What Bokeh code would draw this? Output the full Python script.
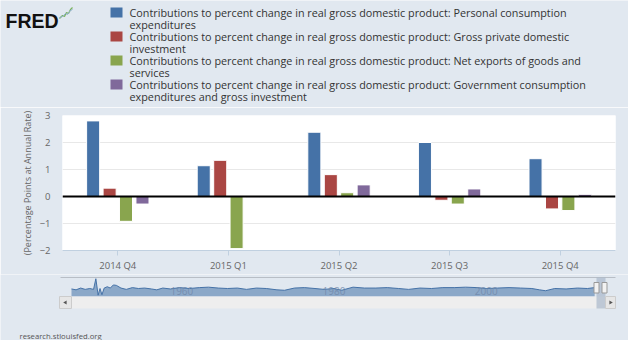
from bokeh.plotting import figure
from bokeh.models import ColumnDataSource, Range1d, FactorRange, Span, FixedTicker
from bokeh.transform import dodge
from bokeh.layouts import column
from bokeh.core.properties import value
from bokeh.embed import file_html
from bokeh.resources import INLINE

# ---------------- data ----------------
quarters = ["2014 Q4", "2015 Q1", "2015 Q2", "2015 Q3", "2015 Q4"]
pce = [2.80, 1.14, 2.38, 2.00, 1.40]
gpdi = [0.31, 1.34, 0.81, -0.14, -0.46]
netx = [-0.92, -1.93, 0.14, -0.28, -0.52]
gov = [-0.28, -0.04, 0.43, 0.28, 0.08]
yticks = [-2, -1, 0, 1, 2, 3]

series_keys = ["pce", "gpdi", "netx", "gov"]
series_colors = ["#4572A7", "#AA4643", "#89A54E", "#80699B"]
legend_line1 = [
    "Contributions to percent change in real gross domestic product: Personal consumption",
    "Contributions to percent change in real gross domestic product: Gross private domestic",
    "Contributions to percent change in real gross domestic product: Net exports of goods and",
    "Contributions to percent change in real gross domestic product: Government consumption",
]
legend_line2 = ["expenditures", "investment", "services", "expenditures and gross investment"]
y_title = "(Percentage Points at Annual Rate)"

# navigator (long-run overview) series
nav_years = [1947.0, 1947.6, 1948.2, 1948.8, 1949.4, 1949.9, 1950.2, 1950.5, 1950.75, 1951.0,
             1951.3, 1951.7, 1952.1, 1952.5, 1952.9, 1953.5, 1954.2, 1955.0, 1955.8, 1956.6,
             1957.5, 1958.2, 1959.0, 1960.0, 1961.2, 1962.5, 1963.8, 1965.0, 1966.3, 1967.5,
             1968.8, 1970.0, 1971.3, 1972.6, 1974.0, 1975.0, 1976.3, 1977.6, 1979.0, 1980.2,
             1981.5, 1982.5, 1984.0, 1985.5, 1987.0, 1988.5, 1990.0, 1991.3, 1992.8, 1994.3,
             1995.8, 1997.3, 1998.8, 2000.3, 2001.5, 2003.0, 2004.5, 2006.0, 2007.5, 2008.5,
             2009.3, 2010.5, 2012.0, 2013.5, 2014.8, 2015.75]
nav_values = [2, 0, 4, 1, 3, 1, 25, -12, 3, -11,
              4, 7, 4, 11, 10, 4, 1, 5, 3, 4,
              2, 0, 4, 2, 5, 3, 5, 6, 4, 3,
              4, 1, 4, 3, 0, -1, 4, 5, 3, 1,
              3, -1, 6, 4, 4, 5, 3, 1, 4, 3,
              5, 5, 6, 5, 3, 4, 5, 4, 3, 0,
              -2, 3, 2, 4, 3, 5]
nav_label_years = [1960, 1980, 2000]
nav_labels = ["1960", "1980", "2000"]

BG = "#e1e8f0"
FONT = value("Open Sans")
W = 628


def no_align(fig):
    if hasattr(fig, "frame_align"):
        fig.frame_align = False


# ---------------- header (logo + legend) ----------------
hdr = figure(width=W, height=107, x_range=Range1d(0, W), y_range=Range1d(107, 0),
             output_backend="svg", toolbar_location=None,
             x_axis_type=None, y_axis_type=None, min_border=0)
no_align(hdr)
hdr.background_fill_color = BG
hdr.border_fill_color = BG
hdr.outline_line_color = None
hdr.xgrid.visible = False
hdr.ygrid.visible = False

hdr.text(x=[5], y=[20], text=["FRED"], text_font=value("Liberation Sans"),
         text_font_style="bold", text_font_size="19.5px", text_color="#111111",
         text_baseline="alphabetic")
# small logo icon
hdr.line(x=[59, 62, 64, 66, 68, 70, 72], y=[18, 15, 16, 12, 13, 9, 7], line_color="#7bb35f", line_width=1.2)
hdr.line(x=[59, 62, 65, 67, 70, 72], y=[17, 16, 13, 14, 10, 9], line_color="#8fb0d0", line_width=1)

n = len(series_keys)
item_y = [12 + 24 * i for i in range(n)]
hdr.rect(x=[116] * n, y=item_y, width=12, height=10, fill_color=series_colors, line_color=None)
hdr.text(x=[129] * n, y=item_y, text=legend_line1, text_font=FONT, text_font_size="10.8px",
         text_color="#333333", text_baseline="middle")
hdr.text(x=[129] * n, y=[v + 11.7 for v in item_y], text=legend_line2, text_font=FONT,
         text_font_size="10.8px", text_color="#333333", text_baseline="middle")

# ---------------- main chart ----------------
src = ColumnDataSource(dict(q=quarters, pce=pce, gpdi=gpdi, netx=netx, gov=gov))
p = figure(width=W, height=167, x_range=FactorRange(*quarters, range_padding=0),
           y_range=Range1d(-2, 3), output_backend="svg", toolbar_location=None,
           min_border_left=60, min_border_right=13, min_border_top=8, min_border_bottom=23)
no_align(p)
p.background_fill_color = "white"
p.border_fill_color = BG
p.outline_line_color = None

offsets = [-0.223, -0.074, 0.074, 0.223]
for key, col, off in zip(series_keys, series_colors, offsets):
    p.vbar(x=dodge("q", off, range=p.x_range), top=key, bottom=0, width=0.118, source=src,
           fill_color=col, line_color="white", line_width=1)

p.add_layout(Span(location=0, dimension="width", line_color="black", line_width=2))

p.xgrid.visible = False
p.ygrid.grid_line_color = "#e8e8e8"
p.ygrid.grid_line_width = 1

xa = p.xaxis[0]
xa.axis_line_color = "#c0d0e0"
xa.major_tick_line_color = "#c0d0e0"
xa.major_tick_out = 5
xa.major_tick_in = 0
xa.minor_tick_line_color = None
xa.major_label_standoff = 3
xa.major_label_text_font = "Open Sans"
xa.major_label_text_font_size = "9.5px"
xa.major_label_text_color = "#666666"

ya = p.yaxis[0]
ya.ticker = FixedTicker(ticks=yticks)
ya.axis_line_color = None
ya.major_tick_line_color = None
ya.major_tick_out = 0
ya.major_tick_in = 0
ya.minor_tick_line_color = None
ya.major_label_standoff = 12
ya.major_label_text_font = "Open Sans"
ya.major_label_text_font_size = "9.5px"
ya.major_label_text_color = "#666666"
# blank first line pads the label away from the outer edge of the axis panel
ya.axis_label = "\n" + y_title
ya.axis_label_text_font = "Open Sans"
ya.axis_label_text_font_style = "normal"
ya.axis_label_text_font_size = "9px"
ya.axis_label_text_line_height = 1.35
ya.axis_label_text_color = "#666666"
ya.axis_label_standoff = 3

# ---------------- navigator ----------------
nav = figure(width=W, height=66, x_range=Range1d(0, W), y_range=Range1d(66, 0),
             output_backend="svg", toolbar_location=None,
             x_axis_type=None, y_axis_type=None, min_border=0)
no_align(nav)
nav.background_fill_color = BG
nav.border_fill_color = BG
nav.outline_line_color = None
nav.xgrid.visible = False
nav.ygrid.visible = False
nav.extra_x_ranges = {"yr": Range1d(1937.67, 2020.2)}
nav.extra_y_ranges = {"val": Range1d(-114, 34.5)}

nav.segment(x0=[60], y0=[3], x1=[615], y1=[3], line_color="#b8bec6", line_width=1)
nsrc = ColumnDataSource(dict(yr=nav_years, v=nav_values))
nav.varea(x="yr", y1=-15, y2="v", source=nsrc, fill_color="#4572A7", fill_alpha=0.55,
          x_range_name="yr", y_range_name="val")
nav.line(x="yr", y="v", source=nsrc, line_color="#4572A7", line_width=1,
         x_range_name="yr", y_range_name="val")
nav.text(x=nav_label_years, y=[16] * len(nav_labels), text=nav_labels, x_range_name="yr",
         text_font=FONT, text_font_size="10px", text_color="#6f87a8", text_alpha=0.8,
         text_baseline="middle")

# scrollbar
nav.quad(left=[59], right=[615], top=[22], bottom=[34], fill_color="#eeeeee", line_color=None)
nav.quad(left=[596], right=[605], top=[3], bottom=[34], fill_color="#a9b8ca", fill_alpha=0.7, line_color=None)
nav.quad(left=[59, 605], right=[71, 615], top=[22, 22], bottom=[34, 34],
         fill_color="#e6e6e6", line_color="#cccccc", line_width=1)
nav.scatter(x=[65, 610], y=[28, 28], marker="triangle", angle=[1.5708, -1.5708], size=4,
            fill_color="#555555", line_color=None)
nav.quad(left=[593.5, 601.5], right=[598.5, 606.5], top=[8, 8], bottom=[18.5, 18.5],
         fill_color="#f2f2f2", line_color="#999999", line_width=1)

nav.text(x=[19], y=[61], text=["research.stlouisfed.org"], text_font=FONT,
         text_font_size="7.7px", text_color="#555555", text_baseline="middle")

layout = column(hdr, p, nav, spacing=0)
open("out.html", "w").write(file_html(layout, INLINE))
